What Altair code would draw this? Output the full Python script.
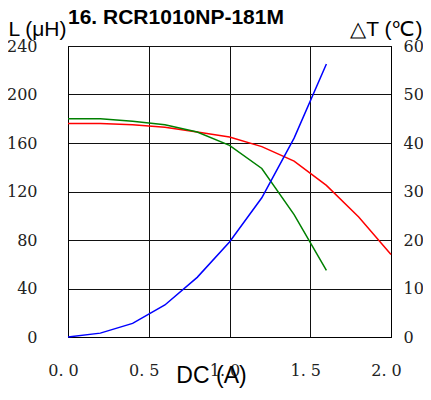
import altair as alt
import pandas as pd

# Inductance curves (left axis, µH)
x_red = [0.0, 0.2, 0.4, 0.6, 0.8, 1.0, 1.2, 1.4, 1.6, 1.8, 2.0]
l_red = [176, 176, 175, 173, 169, 165, 157, 145, 125, 99, 68]
x_green = [0.0, 0.2, 0.4, 0.6, 0.8, 1.0, 1.2, 1.4, 1.6]
l_green = [180, 180, 178, 175, 169, 158, 139, 101, 55]
# Temperature rise (right axis, °C)
x_blue = [0.0, 0.2, 0.4, 0.6, 0.8, 1.0, 1.2, 1.4, 1.6]
t_blue = [0, 0.8, 2.8, 6.6, 12.3, 19.6, 28.7, 41, 56.3]

x_ticks = [0, 0.5, 1.0, 1.5, 2.0]
l_ticks = [0, 40, 80, 120, 160, 200, 240]
t_ticks = [0, 10, 20, 30, 40, 50, 60]

df_l = pd.concat([
    pd.DataFrame({"x": x_red, "y": l_red, "s": "red"}),
    pd.DataFrame({"x": x_green, "y": l_green, "s": "green"}),
])
df_t = pd.DataFrame({"x": x_blue, "y": t_blue})

serif = "DejaVu Serif"
sans = "Liberation Sans"

xaxis = alt.Axis(values=x_ticks, labelExpr="replace(format(datum.value, '.1f'), '.', '. ')",
                 labelFont=serif, labelFontSize=16, labelColor="#222", labelPadding=25,
                 labelOffset=-5, labelFlush=False, ticks=False, grid=True, gridColor="#111",
                 gridOpacity=1, domainColor="#000", title="DC (A)", titleFont=sans,
                 titleFontSize=23, titleFontWeight="normal", titleColor="#000",
                 titleX=143, titleY=45, titleAlign="center", titleBaseline="alphabetic")

left = alt.Chart(df_l).mark_line(strokeWidth=1.5).encode(
    x=alt.X("x:Q", scale=alt.Scale(domain=[0, 2], nice=False), axis=xaxis),
    y=alt.Y("y:Q", scale=alt.Scale(domain=[0, 240], nice=False),
            axis=alt.Axis(values=l_ticks, labelFont=serif, labelFontSize=16, labelColor="#222",
                          labelPadding=31, ticks=False, grid=True, gridColor="#111", gridOpacity=1,
                          domainColor="#000", title="L (μH)", titleFont=sans, titleFontSize=21,
                          titleFontWeight="normal", titleColor="#000", titleAngle=0,
                          titleAlign="left", titleBaseline="alphabetic", titleX=-60, titleY=-11)),
    color=alt.Color("s:N", scale=alt.Scale(domain=["red", "green"], range=["#ff0000", "#008000"]),
                    legend=None),
)

right = alt.Chart(df_t).mark_line(strokeWidth=1.5, color="#0000ff").encode(
    x=alt.X("x:Q", scale=alt.Scale(domain=[0, 2], nice=False)),
    y=alt.Y("y:Q", scale=alt.Scale(domain=[0, 60], nice=False),
            axis=alt.Axis(orient="right", values=t_ticks, labelFont=serif, labelFontSize=16,
                          labelColor="#222", labelPadding=12, ticks=False, grid=False,
                          domainColor="#000", title="△T (℃)", titleFont=sans, titleFontSize=21,
                          titleFontWeight="normal", titleColor="#000", titleAngle=0,
                          titleAlign="right", titleBaseline="alphabetic", titleX=31, titleY=-11)),
)

chart = alt.layer(left, right).resolve_scale(y="independent").properties(
    width=323, height=291,
    autosize=alt.AutoSizeParams(type="none"),
    padding={"left": 60, "top": 38, "right": 32, "bottom": 53},
    title=alt.TitleParams("16. RCR1010NP-181M", font=sans, fontSize=21, fontWeight="bold",
                          color="#000", anchor="start", frame="group", offset=-10),
).configure_view(stroke="#000", strokeWidth=1)

chart.save("out.html", embed_options={"renderer": "svg", "actions": False})
